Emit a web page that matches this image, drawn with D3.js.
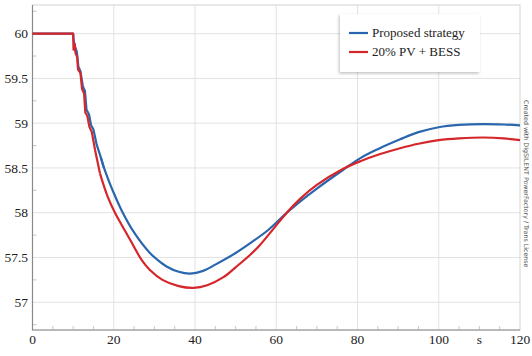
<!DOCTYPE html>
<html lang="en">
<head>
<meta charset="UTF-8" />
<title>Frequency response</title>
<script src="https://d3js.org/d3.v7.min.js"></script>
<style>
  body { margin: 0; background: #fff; }
  svg { display: block; }
  text { font-family: "Liberation Serif", "Times New Roman", serif; fill: #222; }
  text.wm { font-family: "DejaVu Sans", sans-serif; fill: #555; }
</style>
</head>
<body>
<div id="chart"></div>
<script>
// time axis (s) and frequency (Hz)
const seriesNames = ["Proposed strategy", "20% PV + BESS"];
const seriesColors = ["#2a66ad", "#d5262c"];

const blueT = [0, 10, 10.15, 10.5, 10.9, 11.3, 11.8, 12.4, 12.9, 13.3, 13.9, 14.4, 15.0, 15.8, 16.8, 17.6, 18.5, 20, 22,
  25, 28.9, 30.6, 33, 36, 38.8, 42, 45, 50, 53.6, 58.1, 62.6, 66, 70, 76.5, 80.7, 85, 90.5, 95, 100, 105, 111, 116, 120];
const blueF = [60, 60, 59.92, 59.85, 59.80, 59.63, 59.58, 59.41, 59.36, 59.15, 59.10, 58.98, 58.93, 58.76, 58.62, 58.50, 58.39, 58.22, 58.02,
  57.78, 57.55, 57.48, 57.40, 57.34, 57.32, 57.35, 57.42, 57.55, 57.66, 57.81, 58.00, 58.13, 58.27, 58.48, 58.61, 58.71, 58.82, 58.90, 58.955, 58.98, 58.99, 58.985, 58.975];

const redT = [0, 10, 10.1, 10.4, 10.6, 11.0, 11.2, 11.8, 12.2, 12.7, 13.0, 13.5, 14.0, 14.6, 15.4, 16.6, 18.5, 20.3,
  22, 24, 26.9, 28.9, 32, 36, 39.6, 43, 47, 50, 53.6, 56, 59.3, 62.6, 66, 70, 76.5, 80.7, 85.6, 90.5, 95, 100, 105, 111, 116, 120];
const redF = [60, 60, 59.82, 59.88, 59.78, 59.74, 59.60, 59.56, 59.38, 59.33, 59.12, 59.08, 58.96, 58.90, 58.70, 58.44, 58.18, 58.00,
  57.86, 57.70, 57.47, 57.36, 57.25, 57.18, 57.16, 57.19, 57.28, 57.39, 57.53, 57.64, 57.82, 58.00, 58.16, 58.31, 58.49, 58.575, 58.655, 58.72, 58.77, 58.81, 58.83, 58.84, 58.83, 58.81];

const xTicks = [0, 20, 40, 60, 80, 100, 120];
const yTicks = [57, 57.5, 58, 58.5, 59, 59.5, 60];
const xUnit = "s";
const watermark = "Created with DIgSILENT PowerFactory / Trans License";

const width = 532, height = 356;
const x = d3.scaleLinear().domain([0, 120]).range([32.5, 520]);
const y = d3.scaleLinear().domain([56.69, 60.32]).range([330, 5]);

const svg = d3.select("#chart").append("svg")
  .attr("width", width).attr("height", height);

const defs = svg.append("defs");
const f = defs.append("filter").attr("id", "shadow")
  .attr("x", "-10%").attr("y", "-20%").attr("width", "130%").attr("height", "150%");
f.append("feDropShadow").attr("dx", -1).attr("dy", 1.5).attr("stdDeviation", 1.5)
  .attr("flood-color", "#000").attr("flood-opacity", 0.25);

// grid
svg.append("g").selectAll("line").data(xTicks.slice(1, -1)).join("line")
  .attr("x1", d => x(d)).attr("x2", d => x(d))
  .attr("y1", y.range()[1]).attr("y2", y.range()[0])
  .attr("stroke", "#e2e2e2").attr("stroke-width", 1);
svg.append("g").selectAll("line").data(yTicks).join("line")
  .attr("x1", x.range()[0]).attr("x2", x.range()[1])
  .attr("y1", d => y(d)).attr("y2", d => y(d))
  .attr("stroke", "#e2e2e2").attr("stroke-width", 1);

// minor ticks (inside)
const xMinor = d3.range(5, 120, 5).filter(d => d % 20 !== 0);
svg.append("g").selectAll("line").data(xMinor).join("line")
  .attr("x1", d => x(d)).attr("x2", d => x(d))
  .attr("y1", y.range()[0]).attr("y2", y.range()[0] - 4)
  .attr("stroke", "#c8c8c8");
const yMinor = d3.range(56.75, 60.3, 0.25).filter(d => Math.abs(d * 2 - Math.round(d * 2)) > 0.01);
svg.append("g").selectAll("line").data(yMinor).join("line")
  .attr("x1", x.range()[0]).attr("x2", x.range()[0] + 4)
  .attr("y1", d => y(d)).attr("y2", d => y(d))
  .attr("stroke", "#c8c8c8");

// frame
svg.append("rect")
  .attr("x", x.range()[0]).attr("y", y.range()[1])
  .attr("width", x.range()[1] - x.range()[0]).attr("height", y.range()[0] - y.range()[1])
  .attr("fill", "none").attr("stroke", "#d4d4d4");
svg.append("path")
  .attr("d", `M${x.range()[0]},${y.range()[1]}V${y.range()[0]}H${x.range()[1]}`)
  .attr("fill", "none").attr("stroke", "#8a8a8a").attr("stroke-width", 1.2);

// tick labels
svg.append("g").selectAll("text").data(xTicks).join("text")
  .attr("x", d => x(d)).attr("y", 344)
  .attr("text-anchor", "middle").attr("font-size", 13.5)
  .text(d => d);
svg.append("text").attr("x", x(110)).attr("y", 344)
  .attr("text-anchor", "middle").attr("font-size", 13.5).text(xUnit);
svg.append("g").selectAll("text").data(yTicks).join("text")
  .attr("x", 28).attr("y", d => y(d)).attr("dy", "0.35em")
  .attr("text-anchor", "end").attr("font-size", 13.5)
  .text(d => d);

// curves: stepped start drawn straight, smooth recovery after ~17 s
const stepLine = d3.line().x(d => x(d[0])).y(d => y(d[1]));
const smoothLine = d3.line().x(d => x(d[0])).y(d => y(d[1])).curve(d3.curveCatmullRom.alpha(0.5));
const series = [d3.zip(blueT, blueF), d3.zip(redT, redF)];
const split = 16.5;
const curves = svg.append("g");
series.forEach((pts, i) => {
  const head = pts.filter(p => p[0] <= split + 1.2);
  const tail = pts.filter(p => p[0] >= split);
  [[head, stepLine], [tail, smoothLine]].forEach(([p, gen]) => {
    curves.append("path")
      .attr("d", gen(p))
      .attr("fill", "none")
      .attr("stroke", seriesColors[i])
      .attr("stroke-width", 2.2)
      .attr("stroke-linejoin", "round");
  });
});

// legend
const lg = svg.append("g");
lg.append("rect").attr("x", 340).attr("y", 14).attr("width", 140).attr("height", 58)
  .attr("fill", "#fff").attr("filter", "url(#shadow)");
seriesNames.forEach((name, i) => {
  const yy = 33 + i * 19;
  lg.append("line").attr("x1", 349).attr("x2", 368).attr("y1", yy).attr("y2", yy)
    .attr("stroke", seriesColors[i]).attr("stroke-width", 2.2);
  lg.append("text").attr("x", 372).attr("y", yy).attr("dy", "0.33em")
    .attr("font-size", 13).text(name);
});

// watermark
svg.append("text")
  .attr("class", "wm")
  .attr("transform", "translate(524,100) rotate(90)")
  .attr("font-size", 6.3)
  .text(watermark);
</script>
</body>
</html>
